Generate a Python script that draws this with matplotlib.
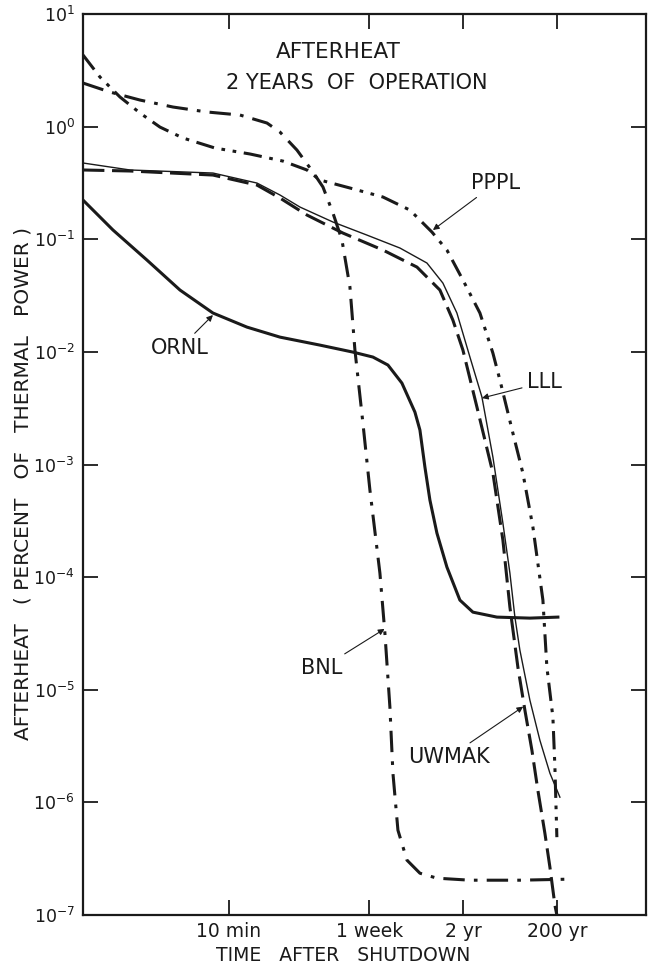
import numpy as np
import matplotlib
matplotlib.use("Agg")
import matplotlib.pyplot as plt
from matplotlib.ticker import NullLocator, FixedLocator, FixedFormatter

# time after shutdown as log10(seconds), afterheat as log10(% of thermal power)
bnl_t = [-0.348, 0.230, 0.872, 1.579, 2.307, 3.014, 3.592, 3.870, 4.234, 4.577,
         4.791, 5.005, 5.198, 5.369, 5.476, 5.647, 5.797, 6.011, 6.118, 6.225,
         6.290, 6.397, 6.590, 6.868, 7.232, 7.939, 9.009, 10.037]
bnl_p = [0.387, 0.307, 0.236, 0.174, 0.130, 0.103, 0.032, -0.048, -0.208, -0.403,
         -0.536, -0.767, -1.007, -1.424, -1.984, -2.632, -3.227, -3.964, -4.497, -5.154,
         -5.741, -6.247, -6.513, -6.629, -6.673, -6.691, -6.691, -6.682]

pppl_t = [-0.348, 0.016, 0.444, 0.872, 1.300, 1.793, 2.478, 3.228, 3.934, 4.448,
          4.727, 5.369, 6.076, 6.654, 7.125, 7.446, 7.789, 8.153, 8.431, 8.581,
          8.859, 9.073, 9.288, 9.502, 9.587, 9.716, 9.759, 9.801]
pppl_p = [0.636, 0.440, 0.263, 0.121, -0.004, -0.101, -0.190, -0.243, -0.306, -0.385,
          -0.474, -0.545, -0.625, -0.741, -0.936, -1.096, -1.362, -1.655, -2.011, -2.250,
          -2.721, -3.076, -3.556, -4.204, -4.799, -5.243, -5.687, -6.309]

lll_t = [-0.348, 0.658, 2.435, 3.378, 3.870, 4.298, 5.005, 5.733, 6.440, 7.018,
         7.360, 7.660, 7.939, 8.196, 8.431, 8.645, 8.795, 8.902, 9.009, 9.223,
         9.437, 9.652, 9.866]
lll_p = [-0.323, -0.385, -0.412, -0.501, -0.607, -0.714, -0.847, -0.963, -1.078, -1.211,
         -1.389, -1.655, -2.046, -2.401, -2.934, -3.520, -3.964, -4.355, -4.648, -5.092,
         -5.448, -5.741, -5.954]

uwmak_t = [-0.348, 0.658, 2.435, 3.378, 3.870, 4.448, 5.219, 6.076, 6.804, 7.296,
           7.574, 7.789, 8.089, 8.431, 8.645, 8.795, 8.966, 9.116, 9.266, 9.394,
           9.544, 9.652, 9.759, 9.801]
uwmak_p = [-0.385, -0.394, -0.430, -0.519, -0.634, -0.785, -0.945, -1.096, -1.247, -1.451,
           -1.718, -1.984, -2.490, -3.076, -3.671, -4.266, -4.799, -5.181, -5.536, -5.892,
           -6.273, -6.575, -6.913, -7.000]

ornl_t = [-0.348, 0.294, 1.022, 1.729, 2.435, 3.163, 3.870, 4.727, 5.433, 5.861,
          6.183, 6.482, 6.761, 6.868, 6.975, 7.082, 7.232, 7.446, 7.724, 8.003,
          8.517, 9.223, 9.823]
ornl_p = [-0.652, -0.918, -1.185, -1.451, -1.655, -1.780, -1.869, -1.940, -2.002, -2.046,
          -2.117, -2.277, -2.535, -2.694, -3.023, -3.316, -3.609, -3.911, -4.204, -4.311,
          -4.355, -4.364, -4.355]

tick_seconds = [600, 604800, 6.31e7, 6.31e9]
tick_names = ["10 min", "1 week", "2 yr", "200 yr"]

fig = plt.figure(figsize=(6.53, 9.67), dpi=100)
ax = fig.add_axes([83 / 653, 52 / 967, 563 / 653, 901 / 967])

def pw(a):
    return 10.0 ** np.asarray(a)

k = "#1a1a1a"
ax.plot(pw(bnl_t), pw(bnl_p), color=k, lw=2.2, ls=(0, (7, 3, 1.2, 3)))
ax.plot(pw(pppl_t), pw(pppl_p), color=k, lw=2.2, ls=(0, (6, 2.5, 1.2, 2.5, 1.2, 2.5)))
ax.plot(pw(lll_t), pw(lll_p), color=k, lw=1.0)
ax.plot(pw(uwmak_t), pw(uwmak_p), color=k, lw=2.2, ls=(0, (7, 2.5)))
ax.plot(pw(ornl_t), pw(ornl_p), color=k, lw=2.2)

ax.set_xscale("log")
ax.set_yscale("log")
ax.set_xlim(10 ** -0.348, 10 ** 11.71)
ax.set_ylim(1e-7, 1e1)

ax.xaxis.set_major_locator(FixedLocator(tick_seconds))
ax.xaxis.set_major_formatter(FixedFormatter(tick_names))
ax.xaxis.set_minor_locator(NullLocator())
ax.yaxis.set_minor_locator(NullLocator())
ax.yaxis.set_major_locator(FixedLocator([10.0 ** e for e in range(-7, 2)]))

ax.tick_params(direction="in", length=11, width=1.3, top=True, right=True,
               labelsize=12.5, colors=k)
ax.tick_params(axis="x", labelsize=13.5, pad=5)
ax.tick_params(axis="y", pad=6)
for s in ax.spines.values():
    s.set_linewidth(1.6)
    s.set_color(k)

ax.set_xlabel("TIME   AFTER   SHUTDOWN", fontsize=13.5, color=k)
ax.set_ylabel("AFTERHEAT   ( PERCENT   OF   THERMAL   POWER )", fontsize=14.5, color=k)
ax.xaxis.set_label_coords(0.462, -0.034)
ax.yaxis.set_label_coords(-0.09, 0.479)

ax.text(0.453, 0.958, "AFTERHEAT", transform=ax.transAxes, ha="center",
        va="center", fontsize=15.5, color=k)
ax.text(0.487, 0.923, "2 YEARS  OF  OPERATION", transform=ax.transAxes,
        ha="center", va="center", fontsize=15, color=k)

arrow = dict(arrowstyle="-|>", lw=0.8, color=k, mutation_scale=9, shrinkA=2, shrinkB=0)
notes = [
    ("PPPL", (7.146, -0.918), (8.495, -0.501)),
    ("LLL", (8.196, -2.410), (9.545, -2.268)),
    ("ORNL", (2.435, -1.673), (1.729, -1.966)),
    ("BNL", (6.11, -4.46), (4.769, -4.808)),
    ("UWMAK", (9.08, -5.15), (7.489, -5.599)),
]
for name, tip, txt in notes:
    ax.annotate(name, xy=(10 ** tip[0], 10 ** tip[1]), xytext=(10 ** txt[0], 10 ** txt[1]),
                ha="center", va="center", fontsize=15, color=k, arrowprops=arrow)

fig.savefig("out.png", dpi=100)
